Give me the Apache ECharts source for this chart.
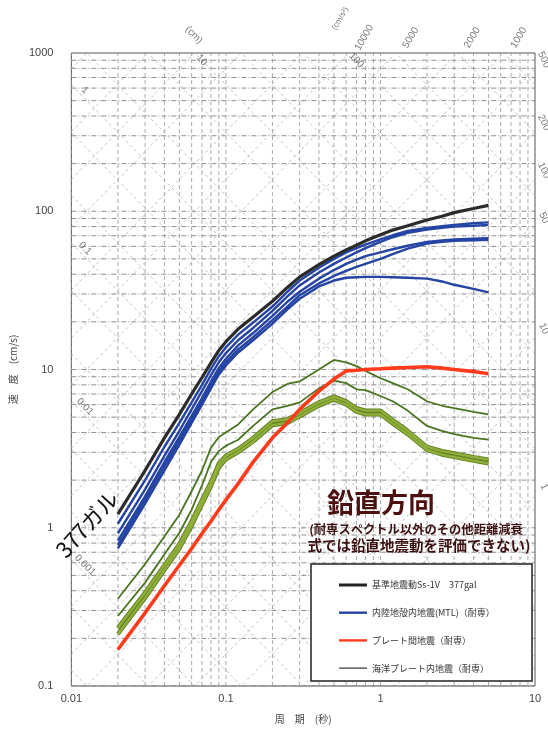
<!DOCTYPE html>
<html>
<head>
<meta charset="utf-8">
<title>鉛直方向 応答スペクトル</title>
<script src="https://cdn.jsdelivr.net/npm/echarts@6/dist/echarts.min.js"></script>
<style>
html, body { margin: 0; padding: 0; background: #fff; }
#chart { width: 548px; height: 729px; }
</style>
</head>
<body>
<div id="chart"></div>
<script>
// 周期 (秒)
const periods = [0.02, 0.03, 0.04, 0.05, 0.06, 0.07, 0.08, 0.09, 0.1, 0.12, 0.15, 0.2, 0.25, 0.3,
  0.4, 0.5, 0.6, 0.7, 0.8, 1.0, 1.2, 1.5, 2.0, 2.5, 3.0, 4.0, 5.0];

// 速度 (cm/s) 基準地震動Ss-1V 377gal
const ssV = [1.22, 2.3, 3.7, 5.2, 7.0, 8.9, 11.0, 13.2, 15.0, 18.0, 21.5, 27, 33, 38.5,
  46, 52, 57, 61, 65, 71, 76, 81, 88, 93, 98, 104, 109];

// 内陸地殻内地震(MTL)（耐専）
const mtl1 = [1.06, 2.0, 3.25, 4.6, 6.2, 8.0, 10.1, 12.1, 13.8, 16.6, 19.8, 25, 31, 36.5,
  44, 50, 55, 58.5, 61.5, 66.5, 70.5, 75, 78.5, 80.5, 82, 84, 85];
const mtl2 = [0.92, 1.75, 2.85, 4.1, 5.6, 7.3, 9.2, 11.1, 12.7, 15.3, 18.3, 23.5, 29, 34,
  41, 46.5, 51, 55, 58.5, 64, 68.5, 73, 76.5, 78.5, 80, 81, 82];
const mtl3 = [0.83, 1.58, 2.6, 3.75, 5.1, 6.6, 8.4, 10.2, 11.7, 14.2, 17.0, 21.8, 26.8, 31,
  37.5, 42.5, 46.5, 49.5, 52, 55, 57.5, 60.5, 64, 65.5, 66.3, 67, 67.5];
const mtl4 = [0.78, 1.5, 2.45, 3.55, 4.85, 6.3, 8.0, 9.7, 11.1, 13.4, 16.0, 20.5, 25, 29.5,
  35, 39, 42, 44.5, 46.5, 50, 53.5, 58, 62.5, 64, 65, 65.5, 66];
const mtl5 = [0.74, 1.42, 2.3, 3.35, 4.6, 6.0, 7.6, 9.3, 10.6, 12.8, 15.3, 19.5, 24, 28,
  33.5, 36.5, 38, 38.3, 38.5, 38.5, 38.3, 38, 37.5, 36, 34.3, 32.3, 30.7];

// プレート間地震（耐専）
const plate = [0.17, 0.29, 0.43, 0.58, 0.74, 0.92, 1.1, 1.3, 1.5, 1.9, 2.6, 3.7, 4.6, 5.6,
  7.3, 8.7, 9.8, 9.9, 10.0, 10.1, 10.2, 10.3, 10.4, 10.2, 10.0, 9.7, 9.4];

// 海洋プレート内地震（耐専）
const slab1 = [0.356, 0.59, 0.88, 1.21, 1.7, 2.3, 3.2, 3.75, 4.0, 4.5, 5.6, 7.2, 8.1, 8.4,
  10.0, 11.5, 11.1, 10.5, 9.8, 8.8, 8.2, 7.5, 6.3, 5.9, 5.7, 5.4, 5.2];
const slab2 = [0.277, 0.45, 0.68, 0.93, 1.3, 1.85, 2.6, 3.05, 3.3, 3.6, 4.4, 5.6, 5.9, 6.2,
  7.6, 8.5, 8.2, 7.5, 7.4, 6.8, 6.3, 5.5, 4.4, 4.1, 3.9, 3.7, 3.6];
const slab3 = [0.233, 0.39, 0.58, 0.79, 1.1, 1.5, 1.95, 2.55, 2.85, 3.15, 3.7, 4.7, 4.85, 5.3,
  6.2, 6.75, 6.3, 5.7, 5.5, 5.5, 4.8, 4.1, 3.25, 3.05, 2.95, 2.8, 2.7];
const slab4 = [0.213, 0.36, 0.54, 0.74, 1.03, 1.4, 1.83, 2.4, 2.7, 3.0, 3.5, 4.45, 4.6, 5.05,
  5.9, 6.45, 6.0, 5.4, 5.2, 5.2, 4.55, 3.9, 3.1, 2.9, 2.8, 2.65, 2.55];

// 目盛ラベル
const xTickLabels = ['0.01', '0.1', '1', '10'];
const yTickLabels = ['0.1', '1', '10', '100', '1000'];

// 三軸グラフの補助線 (変位 cm / 加速度 cm/s2)
const gridMultipliers = [1, 2, 3, 4, 5, 6, 7, 8, 9];
const periodDecades = [0.01, 0.1, 1];
const velocityDecades = [0.1, 1, 10, 100];
const dispLevels = [0.0002, 0.0005, 0.001, 0.002, 0.005, 0.01, 0.02, 0.05, 0.1, 0.2, 0.5,
  1, 2, 5, 10, 20, 50, 100, 200, 500, 1000];
const accLevels = [0.1, 0.2, 0.5, 1, 2, 5, 10, 20, 50, 100, 200, 500, 1000, 2000, 5000,
  10000, 20000, 50000, 100000, 200000, 500000];
const dispLeftLabels = [1, 0.1, 0.01, 0.001];
const dispTopLabels = [10, 100];
const accTopLabels = [10000, 5000, 2000, 1000];
const accRightLabels = [500, 200, 100, 50, 10, 1];

const TMIN = 0.01, TMAX = 10, VMIN = 0.1, VMAX = 1000;
const PI2 = 2 * Math.PI;
const NUM_FONT = 'Liberation Sans';
const JP_FONT = 'Noto Sans CJK JP';

// 凡例の線 (28x3 の枠に太さを変えた帯)
const ICON_THICK = 'path://M0,0 L28,0 L28,3 L0,3 Z';
const ICON_MID = 'path://M0,0 M28,3 M0,0.3 L28,0.3 L28,2.7 L0,2.7 Z';
const ICON_THIN = 'path://M0,0 M28,3 M0,0.9 L28,0.9 L28,2.1 L0,2.1 Z';

const chart = echarts.init(document.getElementById('chart'));

function helperLine(points, style) {
  return {
    type: 'line',
    data: points,
    symbol: 'none',
    silent: true,
    clip: true,
    z: 1,
    lineStyle: style,
    emphasis: { disabled: true },
    animation: false
  };
}

function curve(name, values, color, width, z) {
  return {
    name: name,
    type: 'line',
    data: periods.map((t, i) => [t, values[i]]),
    symbol: 'none',
    clip: true,
    z: z,
    lineStyle: { color: color, width: width },
    itemStyle: { color: color },
    emphasis: { disabled: true },
    animation: false
  };
}

const series = [];

// 水平線・垂直線
const hStyle = { color: '#747474', width: 0.8, type: [5, 2, 1, 2] };
const vStyle = { color: '#959595', width: 0.8, type: [4, 3] };
const diagStyle = { color: '#a8a8a8', width: 0.7, type: [3, 3] };
velocityDecades.forEach(d => {
  gridMultipliers.forEach(m => {
    series.push(helperLine([[TMIN, d * m], [TMAX, d * m]], hStyle));
  });
});
periodDecades.forEach(d => {
  gridMultipliers.forEach(m => {
    series.push(helperLine([[d * m, VMIN], [d * m, VMAX]], vStyle));
  });
});
// 変位一定線 V = 2πD/T, 加速度一定線 V = A·T/2π
dispLevels.forEach(D => {
  series.push(helperLine([[TMIN, PI2 * D / TMIN], [TMAX, PI2 * D / TMAX]], diagStyle));
});
accLevels.forEach(A => {
  series.push(helperLine([[TMIN, A * TMIN / PI2], [TMAX, A * TMAX / PI2]], diagStyle));
});

// 補助線のラベル
const labelData = [];
dispLeftLabels.forEach(D => {
  const t = 0.0115;
  labelData.push({ value: [t, PI2 * D / t], label: { formatter: String(D), rotate: -45, offset: [0, -6] } });
});
dispTopLabels.forEach(D => {
  const v = 900;
  labelData.push({ value: [PI2 * D / v, v], label: { formatter: String(D), rotate: -45 } });
});
labelData.push({ value: [0.062, 1300], label: { formatter: '(cm)', rotate: -45 } });
accTopLabels.forEach(A => {
  const v = 1250;
  labelData.push({ value: [PI2 * v / A, v], label: { formatter: String(A), rotate: 60 } });
});
labelData.push({ value: [0.55, 1650], label: { formatter: '(cm/s²)', rotate: 60, fontSize: 8 } });
accRightLabels.forEach(A => {
  const t = 11.4;
  labelData.push({ value: [t, A * t / PI2], label: { formatter: String(A), rotate: -65 } });
});
series.push({
  type: 'scatter',
  data: labelData,
  symbolSize: 0,
  silent: true,
  clip: false,
  z: 2,
  label: {
    show: true,
    position: 'inside',
    color: '#555',
    fontSize: 10,
    fontFamily: NUM_FONT
  },
  animation: false
});

// スペクトル
const nameSs = '基準地震動Ss-1V　377gal';
const nameMtl = '内陸地殻内地震(MTL)（耐専）';
const namePlate = 'プレート間地震（耐専）';
const nameSlab = '海洋プレート内地震（耐専）';

series.push(curve(nameSlab, slab1, '#4b7421', 1.8, 3));
series.push(curve(nameSlab, slab2, '#4b7421', 1.8, 3));
series.push(curve(nameSlab, slab3, '#5f7f22', 4.2, 3));
series.push(curve(nameSlab, slab4, '#5f7f22', 4.2, 3));
series.push(curve(nameSlab, slab3, '#8fae3a', 2.4, 3));
series.push(curve(nameSlab, slab4, '#8fae3a', 2.4, 3));
series.push(curve(namePlate, plate, '#ff3b1c', 3.6, 4));
series.push(curve(nameMtl, mtl5, '#2443a3', 2.4, 5));
series.push(curve(nameMtl, mtl4, '#2443a3', 2.4, 5));
series.push(curve(nameMtl, mtl3, '#2443a3', 2.4, 5));
series.push(curve(nameMtl, mtl2, '#2443a3', 2.4, 5));
series.push(curve(nameMtl, mtl1, '#2443a3', 2.4, 5));
series.push(curve(nameSs, ssV, '#2b2b2b', 3.2, 6));

chart.setOption({
  backgroundColor: '#fff',
  animation: false,
  grid: {
    left: 68,
    right: 13,
    top: 53,
    bottom: 43,
    show: true,
    borderColor: '#555',
    borderWidth: 1
  },
  xAxis: {
    type: 'log',
    logBase: 10,
    min: TMIN,
    max: TMAX,
    name: '周　期　(秒)',
    nameLocation: 'middle',
    nameGap: 28,
    nameTextStyle: { color: '#444', fontSize: 10, fontFamily: JP_FONT },
    axisLine: { show: false },
    axisTick: { show: false },
    splitLine: { show: false },
    axisLabel: {
      color: '#444',
      fontSize: 11,
      fontFamily: NUM_FONT,
      margin: 7,
      formatter: (v, i) => xTickLabels[i]
    }
  },
  yAxis: {
    type: 'log',
    logBase: 10,
    min: VMIN,
    max: VMAX,
    name: '速　度　(cm/s)',
    nameLocation: 'middle',
    nameRotate: 90,
    nameGap: 50,
    nameTextStyle: { color: '#444', fontSize: 10, fontFamily: JP_FONT },
    axisLine: { show: false },
    axisTick: { show: false },
    splitLine: { show: false },
    axisLabel: {
      color: '#444',
      fontSize: 11,
      fontFamily: NUM_FONT,
      margin: 18,
      formatter: (v, i) => yTickLabels[i]
    }
  },
  legend: {
    orient: 'vertical',
    left: 334,
    top: 575,
    itemWidth: 28,
    itemHeight: 3,
    itemGap: 17.7,
    selectedMode: false,
    z: 60,
    textStyle: { fontSize: 9, color: '#333', fontFamily: JP_FONT, lineHeight: 10 },
    data: [
      { name: nameSs, icon: ICON_THICK, itemStyle: { color: '#222' } },
      { name: nameMtl, icon: ICON_MID, itemStyle: { color: '#2443a3' } },
      { name: namePlate, icon: ICON_MID, itemStyle: { color: '#ff3b1c' } },
      { name: nameSlab, icon: ICON_THIN, itemStyle: { color: '#333' } }
    ]
  },
  graphic: [
    {
      type: 'rect',
      z: 50,
      silent: true,
      shape: { x: 311, y: 564, width: 221, height: 117 },
      style: { fill: '#fff', stroke: '#222', lineWidth: 1.5 }
    },
    {
      type: 'text',
      z: 50,
      x: 87,
      y: 524,
      rotation: 48 * Math.PI / 180,
      style: {
        text: '377ガル',
        fill: '#111',
        font: '22px "Noto Sans CJK JP"',
        textAlign: 'center',
        textVerticalAlign: 'middle',
        align: 'center',
        verticalAlign: 'middle'
      }
    },
    {
      type: 'text',
      z: 50,
      x: 381,
      y: 503,
      style: {
        text: '鉛直方向',
        fill: '#4d1010',
        font: 'bold 27px "Noto Sans CJK JP"',
        textAlign: 'center',
        textVerticalAlign: 'middle',
        align: 'center',
        verticalAlign: 'middle'
      }
    },
    {
      type: 'text',
      z: 50,
      x: 416,
      y: 529,
      style: {
        text: '(耐専スペクトル以外のその他距離減衰',
        fill: '#3b1010',
        font: 'bold 12.3px "Noto Sans CJK JP"',
        textAlign: 'center',
        textVerticalAlign: 'middle',
        align: 'center',
        verticalAlign: 'middle'
      }
    },
    {
      type: 'text',
      z: 50,
      x: 419,
      y: 545,
      style: {
        text: '式では鉛直地震動を評価できない)',
        fill: '#3b1010',
        font: 'bold 14.5px "Noto Sans CJK JP"',
        textAlign: 'center',
        textVerticalAlign: 'middle',
        align: 'center',
        verticalAlign: 'middle'
      }
    }
  ],
  series: series
});
</script>
</body>
</html>
